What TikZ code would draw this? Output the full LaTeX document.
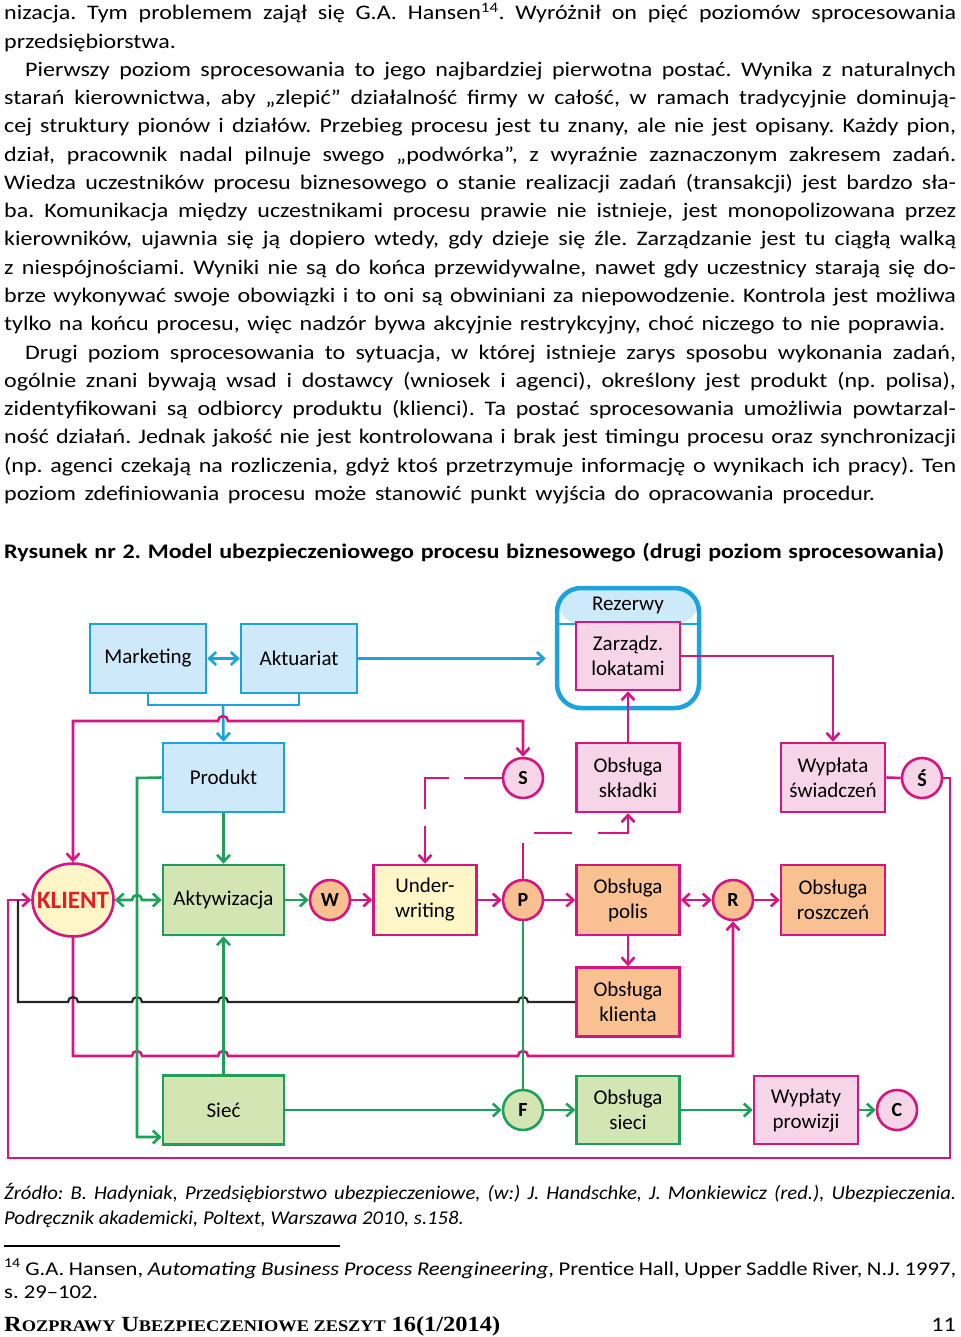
\documentclass[tikz,border=0pt]{standalone}
\usepackage{fontspec}
\setmainfont{Carlito}
\newfontfamily\bodyfam{Carlito}[FakeStretch=1.16]
\newfontfamily\srcfam{Carlito}[FakeStretch=1.06]
\newfontfamily\footserif{Liberation Serif}
\usetikzlibrary{arrows.meta,shapes.geometric}
\definecolor{cblue}{RGB}{27,163,222}
\definecolor{cbluefill}{RGB}{206,233,249}
\definecolor{cmag}{RGB}{214,22,128}
\definecolor{cpinkfill}{RGB}{247,213,233}
\definecolor{cgreen}{RGB}{30,160,90}
\definecolor{cgreenfill}{RGB}{212,229,180}
\definecolor{corange}{RGB}{249,192,146}
\definecolor{cyellow}{RGB}{255,246,200}
\definecolor{cred}{RGB}{226,30,38}
\newcommand\bodyfont{\bodyfam\frenchspacing\fontsize{20.7pt}{28pt}\selectfont}
\newcommand\smallbody{\bodyfam\frenchspacing\fontsize{19.5pt}{25pt}\selectfont}
\newcommand\srcfont{\srcfam\frenchspacing\fontsize{19.5pt}{25pt}\selectfont\itshape}
\newcommand\boxfont{\fontsize{21pt}{25pt}\selectfont}
\newcommand\circfont{\fontsize{20pt}{24pt}\selectfont\bfseries}
\newcommand\jline[4]{\node[txt] (#1) at (4,#2) {\makebox[#3][s]{#4}};}
\begin{document}
\begin{tikzpicture}[x=1pt,y=-1pt,
  >={Straight Barb[length=7pt,width=13pt]},
  txt/.style={anchor=base west,inner sep=0pt,font=\bodyfont},
  dbox/.style={rectangle,line width=2.6pt,inner sep=0pt,align=center,font=\boxfont},
  bluebox/.style={dbox,draw=cblue,fill=cbluefill},
  greenbox/.style={dbox,draw=cgreen,fill=cgreenfill},
  orangebox/.style={dbox,draw=cmag,fill=corange},
  pinkbox/.style={dbox,draw=cmag,fill=cpinkfill},
  yellowbox/.style={dbox,draw=cmag,fill=cyellow},
  circ/.style={circle,minimum size=40pt,inner sep=0pt,line width=2.6pt,font=\circfont},
  mline/.style={draw=cmag,line width=2.6pt},
  gline/.style={draw=cgreen,line width=2.6pt},
  bline/.style={draw=cblue,line width=2.6pt},
  kline/.style={draw=black!85,line width=2.2pt}
]
\fill[white] (0,0) rectangle (960,1337);
\useasboundingbox (0,0) rectangle (960,1337);

% ---------- body text ----------
\jline{t1}{20}{952pt}{nizacja. Tym problemem zajął się G.A. Hansen\textsuperscript{14}. Wyróżnił on pięć poziomów sprocesowania}
\node[txt] (t2) at (4,48.25) {przedsiębiorstwa.};
\jline{t3}{76.5}{952pt}{\hspace*{21pt}Pierwszy poziom sprocesowania to jego najbardziej pierwotna postać. Wynika z naturalnych}
\jline{t4}{104.75}{952pt}{starań kierownictwa, aby „zlepić” działalność firmy w całość, w ramach tradycyjnie dominują-}
\jline{t5}{133}{952pt}{cej struktury pionów i działów. Przebieg procesu jest tu znany, ale nie jest opisany. Każdy pion,}
\jline{t6}{161.25}{952pt}{dział, pracownik nadal pilnuje swego „podwórka”, z wyraźnie zaznaczonym zakresem zadań.}
\jline{t7}{189.5}{952pt}{Wiedza uczestników procesu biznesowego o stanie realizacji zadań (transakcji) jest bardzo sła-}
\jline{t8}{217.75}{952pt}{ba. Komunikacja między uczestnikami procesu prawie nie istnieje, jest monopolizowana przez}
\jline{t9}{246}{952pt}{kierowników, ujawnia się ją dopiero wtedy, gdy dzieje się źle. Zarządzanie jest tu ciągłą walką}
\jline{t10}{274.25}{952pt}{z niespójnościami. Wyniki nie są do końca przewidywalne, nawet gdy uczestnicy starają się do-}
\jline{t11}{302.5}{952pt}{brze wykonywać swoje obowiązki i to oni są obwiniani za niepowodzenie. Kontrola jest możliwa}
\jline{t12}{330.75}{941pt}{tylko na końcu procesu, więc nadzór bywa akcyjnie restrykcyjny, choć niczego to nie poprawia.}
\jline{t13}{359}{952pt}{\hspace*{21pt}Drugi poziom sprocesowania to sytuacja, w której istnieje zarys sposobu wykonania zadań,}
\jline{t14}{387.25}{952pt}{ogólnie znani bywają wsad i dostawcy (wniosek i agenci), określony jest produkt (np. polisa),}
\jline{t15}{415.5}{952pt}{zidentyfikowani są odbiorcy produktu (klienci). Ta postać sprocesowania umożliwia powtarzal-}
\jline{t16}{443.75}{952pt}{ność działań. Jednak jakość nie jest kontrolowana i brak jest timingu procesu oraz synchronizacji}
\jline{t17}{472}{952pt}{(np. agenci czekają na rozliczenia, gdyż ktoś przetrzymuje informację o wynikach ich pracy). Ten}
\jline{t18}{500.25}{871pt}{poziom zdefiniowania procesu może stanowić punkt wyjścia do opracowania procedur.}

\node[txt,font=\bodyfont\bfseries] (title) at (4,558) {\makebox[940pt][s]{Rysunek nr 2. Model ubezpieczeniowego procesu biznesowego (drugi poziom sprocesowania)}};

% ---------- diagram: containers ----------
\node[draw=cblue,line width=4.5pt,rounded corners=24pt,minimum width=142pt,minimum height=120pt,inner sep=0pt,
  path picture={\fill[cbluefill] (path picture bounding box.north west) rectangle ([yshift=-36pt]path picture bounding box.north east);
  \draw[cblue,line width=1.2pt] ([yshift=-36pt]path picture bounding box.north west) -- ([yshift=-36pt]path picture bounding box.north east);}]
  (rezbox) at (628,648) {};
\node[font=\boxfont,inner sep=0pt] (rez) at (628,605) {Rezerwy};

% ---------- nodes ----------
\node[bluebox,minimum width=116pt,minimum height=69pt] (marketing) at (148,658.5) {Marketing};
\node[bluebox,minimum width=116pt,minimum height=69pt] (aktuariat) at (299,658.5) {Aktuariat};
\node[bluebox,minimum width=121pt,minimum height=69pt] (produkt) at (223.5,777.5) {Produkt};
\node[pinkbox,minimum width=104pt,minimum height=68pt] (zarz) at (628,656) {Zarządz.\\lokatami};
\node[pinkbox,minimum width=103pt,minimum height=69pt] (skladki) at (628,777.5) {Obsługa\\składki};
\node[pinkbox,minimum width=104pt,minimum height=69pt] (wyplata) at (833,777.5) {Wypłata\\świadczeń};
\node[circ,draw=cmag,fill=cpinkfill] (s) at (523,778) {S};
\node[circ,draw=cmag,fill=cpinkfill] (sacc) at (922,778) {Ś};

\node[ellipse,draw=cmag,fill=cyellow,line width=2.6pt,minimum width=81pt,minimum height=73pt,inner sep=0pt,
  font=\fontsize{25pt}{28pt}\selectfont\bfseries,text=cred] (klient) at (73,900) {\makebox[0pt]{KLIENT}};
\node[greenbox,minimum width=121pt,minimum height=70pt] (aktyw) at (223.5,900) {Aktywizacja};
\node[circ,draw=cmag,fill=corange] (w) at (330,900) {W};
\node[yellowbox,minimum width=103pt,minimum height=70pt] (under) at (425,900) {Under-\\writing};
\node[circ,draw=cmag,fill=corange] (p) at (523,900) {P};
\node[orangebox,minimum width=103pt,minimum height=70pt] (polis) at (628,900) {Obsługa\\polis};
\node[circ,draw=cmag,fill=corange] (r) at (733,900) {R};
\node[orangebox,minimum width=104pt,minimum height=70pt] (rosz) at (833,900) {Obsługa\\roszczeń};
\node[orangebox,minimum width=103pt,minimum height=69pt] (klienta) at (628,1002) {Obsługa\\klienta};

\node[greenbox,minimum width=121pt,minimum height=69pt] (siec) at (223.5,1110) {Sieć};
\node[circ,draw=cgreen,fill=cgreenfill] (f) at (523,1110) {F};
\node[greenbox,minimum width=103pt,minimum height=68pt] (osieci) at (628,1110) {Obsługa\\sieci};
\node[pinkbox,minimum width=104pt,minimum height=68pt] (prow) at (806,1110) {Wypłaty\\prowizji};
\node[circ,draw=cmag,fill=cpinkfill] (c) at (897,1110) {C};

% ---------- blue connectors ----------
\draw[bline,<->] (marketing.east) -- (aktuariat.west);
\draw[bline] (marketing.south) -- (148,705) -- (299,705) -- (aktuariat.south);
\draw[bline,->] (223,705) -- (produkt.north);
\draw[bline,->] (aktuariat.east) -- ([xshift=-9pt]rezbox.west |- aktuariat.east);

% ---------- magenta connectors ----------
\draw[mline,<->] (klient.north) -- (73,721) -- (218,721) arc[start angle=180,end angle=360,radius=5] -- (523,721) -- (s.north);
\draw[mline,->] (zarz.east) -| (wyplata.north);
\draw[mline,->] (skladki.north) -- (zarz.south);
\draw[mline] (wyplata.east) -- (sacc.west);
\draw[mline,->] (sacc.east) -- (950,778) -- (950,1158) -- (8,1158) -- (8,900) -- (klient.west);
\draw[mline,->,dash pattern=on 38pt off 15pt on 55pt off 17pt on 80pt] (s.west) -| (under.north);
\draw[mline,->,dash pattern=on 36pt off 21pt on 38pt off 26pt on 80pt] (p.north) -- (523,833) -| (skladki.south);
\draw[mline,->] (w.east) -- (under.west);
\draw[mline,->] (under.east) -- (p.west);
\draw[mline,->] (p.east) -- (polis.west);
\draw[mline,<->] (polis.east) -- (r.west);
\draw[mline,->] (r.east) -- (rosz.west);
\draw[mline,->] (polis.south) -- (klienta.north);
\draw[mline,->] (klient.south) -- (73,1056) -- (132,1056) arc[start angle=180,end angle=360,radius=5]
  -- (218,1056) arc[start angle=180,end angle=360,radius=5]
  -- (518,1056) arc[start angle=180,end angle=360,radius=5] -- (733,1056) -- (r.south);

% ---------- black connector ----------
\draw[kline] (klienta.west) -- (528,1002) arc[start angle=0,end angle=-180,radius=5]
  -- (228,1002) arc[start angle=0,end angle=-180,radius=5]
  -- (142,1002) arc[start angle=0,end angle=-180,radius=5]
  -- (78,1002) arc[start angle=0,end angle=-180,radius=5] -- (18,1002) -- (18,900);

% ---------- green connectors ----------
\draw[gline,<->] (klient.east) -- (132,900) arc[start angle=180,end angle=360,radius=5] -- (aktyw.west);
\draw[gline,->] (produkt.west) -- (137,778) -- (137,1137) -- ([yshift=-27pt]siec.west);
\draw[gline,->] (produkt.south) -- (aktyw.north);
\draw[gline,->] (siec.north) -- (aktyw.south);
\draw[gline,->] (aktyw.east) -- (w.west);
\draw[gline] (p.south) -- (f.north);
\draw[gline,->] (siec.east) -- (f.west);
\draw[gline,->] (f.east) -- (osieci.west);
\draw[gline,->] (osieci.east) -- (prow.west);
\draw[gline,->] (prow.east) -- (c.west);

% ---------- source and footnote ----------
\node[txt,font=\srcfont] (src1) at (4,1199) {\makebox[952pt][s]{Źródło: B. Hadyniak, Przedsiębiorstwo ubezpieczeniowe, (w:) J. Handschke, J. Monkiewicz (red.), Ubezpieczenia.}};
\node[txt,font=\srcfont] (src2) at (4,1224) {Podręcznik akademicki, Poltext, Warszawa 2010, s.158.};
\draw[black,line width=2pt] (4,1246) -- (340,1246);
\node[txt,font=\smallbody] (fn1) at (4,1275) {\makebox[952pt][s]{\textsuperscript{14} G.A. Hansen, \textit{Automating Business Process Reengineering}, Prentice Hall, Upper Saddle River, N.J. 1997,}};
\node[txt,font=\smallbody] (fn2) at (4,1298) {s. 29–102.};
\node[txt] (foot) at (4,1331) {\resizebox{496pt}{15pt}{\footserif\bfseries{\fontsize{22pt}{22pt}\selectfont R}{\fontsize{16.5pt}{16pt}\selectfont OZPRAWY} {\fontsize{22pt}{22pt}\selectfont U}{\fontsize{16.5pt}{16pt}\selectfont BEZPIECZENIOWE ZESZYT} {\fontsize{22pt}{22pt}\selectfont 16(1/2014)}}};
\node[anchor=base east,inner sep=0pt,font=\bodyfont] (pg) at (956,1331) {11};
\end{tikzpicture}
\end{document}
